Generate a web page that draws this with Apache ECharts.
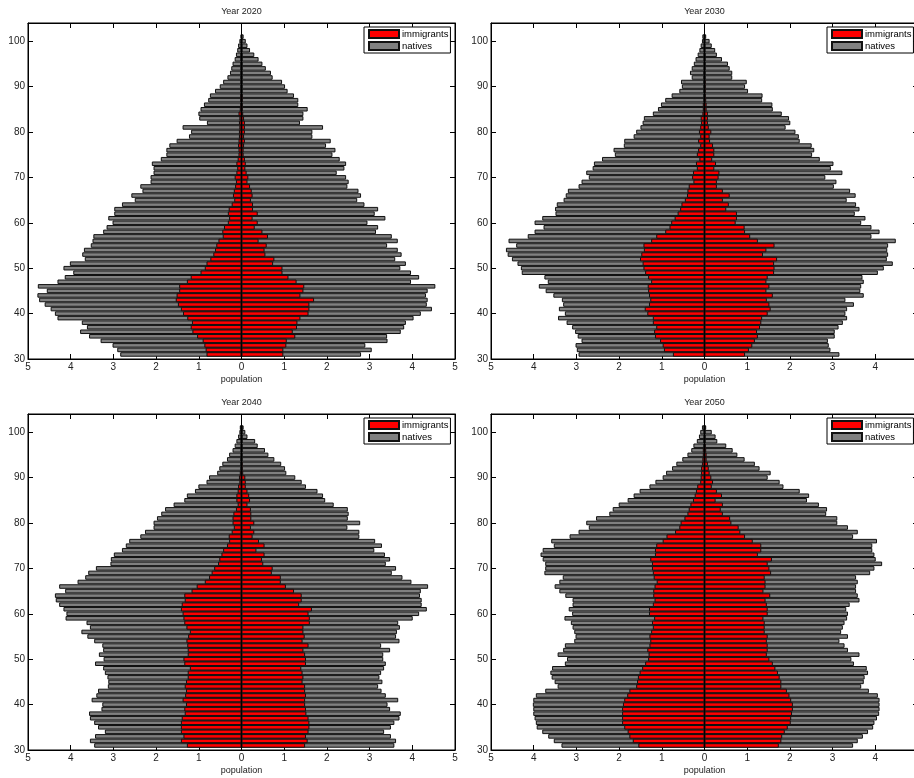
<!DOCTYPE html>
<html>
<head>
<meta charset="utf-8">
<script src="https://cdn.jsdelivr.net/npm/echarts@6/dist/echarts.min.js"></script>
<style>
html,body{margin:0;padding:0;background:#fff;}
#chart{width:914px;height:778px;}
</style>
</head>
<body>
<div id="chart"></div>
<script>
// ages from top (101) to bottom (31)
const ages = [];
for (let a = 101; a >= 31; a--) ages.push(a);
const yCategories = [];
for (let a = 30; a <= 104; a++) yCategories.push(String(a));
const years = ['2020', '2030', '2040', '2050'];
const xTicks = [-5, -4, -3, -2, -1, 0, 1, 2, 3, 4, 5];

// ---- Year 2020 ----
const natives2020Left = [0.02,0.05,0.08,0.10,0.13,0.16,0.21,0.24,0.27,0.33,
0.43,0.51,0.62,0.74,0.78,0.88,0.96,1.01,0.99,0.81,
1.38,1.18,1.23,1.52,1.69,1.76,1.76,1.89,2.10,2.06,
2.06,2.13,2.13,2.37,2.32,2.58,2.50,2.80,2.98,2.98,
3.12,3.02,3.16,3.24,3.47,3.49,3.53,3.69,3.73,3.67,
4.02,4.17,3.94,4.14,4.31,4.77,4.56,4.78,4.74,4.61,
4.47,4.37,4.31,3.74,3.62,3.78,3.57,3.30,3.02,2.91,
2.84];
const natives2020Right = [0.05,0.10,0.14,0.20,0.30,0.40,0.49,0.57,0.69,0.73,
0.95,1.02,1.08,1.23,1.33,1.33,1.55,1.45,1.45,1.37,
1.91,1.66,1.66,2.09,1.98,2.20,2.13,2.30,2.45,2.41,
2.23,2.45,2.51,2.48,2.74,2.80,2.71,2.88,3.20,3.12,
3.37,2.95,3.20,3.15,3.52,3.66,3.41,3.66,3.75,3.60,
3.85,3.72,3.97,4.16,3.97,4.54,4.36,4.32,4.36,4.34,
4.46,4.20,4.03,3.85,3.81,3.73,3.41,3.42,2.90,3.05,
2.80];
const immigrants2020Left = [0,0.01,0.01,0.01,0.02,0.02,0.02,0.02,0.02,0.02,
0.02,0.02,0.02,0.03,0.03,0.03,0.04,0.07,0.05,0.06,
0.05,0.06,0.06,0.07,0.08,0.07,0.07,0.09,0.12,0.10,
0.12,0.16,0.13,0.15,0.18,0.20,0.17,0.23,0.30,0.32,
0.29,0.32,0.41,0.45,0.44,0.54,0.59,0.62,0.66,0.73,
0.82,0.86,0.96,1.19,1.28,1.46,1.46,1.52,1.54,1.49,
1.42,1.37,1.27,1.16,1.19,1.15,1.04,0.91,0.87,0.84,
0.82];
const immigrants2020Right = [0,0.01,0.01,0.01,0.02,0.02,0.02,0.02,0.02,0.02,
0.02,0.02,0.02,0.03,0.03,0.03,0.03,0.04,0.06,0.08,
0.08,0.08,0.06,0.08,0.06,0.05,0.05,0.08,0.10,0.09,
0.12,0.16,0.14,0.20,0.24,0.26,0.22,0.27,0.27,0.38,
0.26,0.38,0.31,0.49,0.62,0.40,0.59,0.54,0.56,0.77,
0.74,0.96,0.96,1.10,1.29,1.47,1.45,1.38,1.70,1.59,
1.59,1.57,1.38,1.31,1.30,1.20,1.26,1.06,1.05,0.98,
0.98];

// ---- Year 2030 ----
const natives2030Left = [0.05,0.06,0.09,0.12,0.16,0.21,0.25,0.30,0.34,0.30,
0.55,0.53,0.59,0.77,0.92,1.02,1.09,1.21,1.42,1.45,
1.50,1.60,1.66,1.88,1.89,2.13,2.10,2.40,2.59,2.62,
2.77,2.71,2.88,2.95,3.20,3.25,3.30,3.46,3.50,3.49,
3.80,3.98,3.77,3.98,4.14,4.59,4.41,4.65,4.61,4.51,
4.38,4.30,4.28,3.75,3.67,3.88,3.72,3.54,3.34,3.31,
3.41,3.27,3.43,3.23,3.10,3.03,2.97,2.88,3.02,2.99,
2.95];
const natives2030Right = [0.04,0.12,0.17,0.25,0.29,0.41,0.55,0.59,0.65,0.65,
0.99,0.95,1.02,1.36,1.35,1.59,1.60,1.81,1.98,2.01,
1.90,2.13,2.21,2.23,2.51,2.57,2.52,2.70,3.02,2.96,
3.23,2.83,3.09,3.03,3.41,3.54,3.33,3.55,3.63,3.52,
3.77,3.67,3.91,4.10,3.91,4.48,4.30,4.28,4.30,4.27,
4.41,4.20,4.06,3.70,3.73,3.67,3.65,3.73,3.30,3.50,
3.34,3.30,3.34,3.24,3.14,3.05,3.05,2.89,2.91,2.95,
3.16];
const immigrants2030Left = [0,0.01,0.01,0.01,0.01,0.01,0.01,0.01,0.02,0.02,
0.02,0.02,0.02,0.02,0.02,0.04,0.04,0.05,0.09,0.08,
0.10,0.13,0.10,0.15,0.10,0.15,0.18,0.12,0.20,0.18,
0.27,0.29,0.26,0.37,0.40,0.41,0.46,0.54,0.57,0.63,
0.70,0.78,0.82,0.92,1.13,1.25,1.43,1.42,1.48,1.51,
1.45,1.43,1.39,1.32,1.25,1.33,1.32,1.30,1.27,1.30,
1.40,1.34,1.21,1.21,1.13,1.18,1.16,1.04,0.98,0.95,
0.74];
const immigrants2030Right = [0,0.01,0.01,0.01,0.02,0.02,0.02,0.02,0.02,0.02,
0.03,0.03,0.03,0.03,0.04,0.05,0.05,0.08,0.08,0.08,
0.10,0.16,0.12,0.13,0.20,0.23,0.23,0.18,0.27,0.23,
0.35,0.33,0.29,0.29,0.43,0.59,0.43,0.57,0.51,0.76,
0.76,0.73,0.94,0.95,1.07,1.25,1.64,1.45,1.37,1.70,
1.63,1.64,1.63,1.48,1.45,1.52,1.45,1.60,1.46,1.52,
1.55,1.48,1.35,1.33,1.30,1.23,1.25,1.18,1.12,1.04,
0.95];

// ---- Year 2040 ----
const natives2040Left = [0.04,0.05,0.08,0.12,0.16,0.21,0.29,0.34,0.45,0.52,
0.57,0.76,0.82,1.01,1.09,1.28,1.34,1.59,1.79,1.88,
1.98,2.06,2.06,2.26,2.37,2.63,2.71,2.80,2.99,3.06,
3.07,3.41,3.59,3.66,3.84,4.27,4.13,4.37,4.35,4.27,
4.17,4.10,4.12,3.63,3.55,3.75,3.61,3.45,3.26,3.24,
3.34,3.23,3.43,3.24,3.20,3.14,3.12,3.13,3.36,3.40,
3.51,3.26,3.28,3.57,3.55,3.45,3.36,3.20,3.43,3.55,
3.45];
const natives2040Right = [0.05,0.09,0.14,0.32,0.38,0.55,0.63,0.77,0.93,1.02,
1.05,1.26,1.41,1.51,1.78,1.91,1.96,2.16,2.49,2.51,
2.49,2.78,2.48,2.76,2.76,3.13,3.29,3.11,3.36,3.48,
3.38,3.62,3.52,3.77,3.98,4.37,4.20,4.18,4.22,4.22,
4.34,4.16,4.01,3.67,3.71,3.64,3.62,3.70,3.27,3.48,
3.32,3.32,3.38,3.34,3.27,3.23,3.30,3.20,3.28,3.38,
3.67,3.42,3.48,3.73,3.70,3.58,3.50,3.34,3.50,3.62,
3.58];
const immigrants2040Left = [0.01,0.01,0.01,0.01,0.01,0.01,0.01,0.02,0.02,0.02,
0.04,0.06,0.05,0.08,0.09,0.12,0.12,0.09,0.13,0.19,
0.21,0.21,0.18,0.23,0.30,0.29,0.34,0.43,0.47,0.52,
0.55,0.64,0.70,0.76,0.86,1.05,1.17,1.34,1.33,1.40,
1.42,1.38,1.36,1.34,1.29,1.21,1.25,1.29,1.27,1.26,
1.26,1.36,1.34,1.21,1.26,1.26,1.30,1.33,1.30,1.32,
1.38,1.30,1.34,1.33,1.40,1.42,1.42,1.42,1.36,1.42,
1.28];
const immigrants2040Right = [0.02,0.02,0.02,0.02,0.02,0.02,0.02,0.02,0.03,0.03,
0.04,0.09,0.10,0.10,0.14,0.18,0.20,0.14,0.22,0.23,
0.23,0.30,0.22,0.30,0.26,0.41,0.54,0.35,0.54,0.48,
0.51,0.73,0.71,0.92,0.92,1.04,1.23,1.41,1.41,1.35,
1.65,1.57,1.60,1.60,1.45,1.45,1.48,1.43,1.57,1.45,
1.49,1.51,1.51,1.40,1.43,1.45,1.43,1.49,1.49,1.51,
1.49,1.49,1.51,1.52,1.57,1.59,1.59,1.57,1.51,1.55,
1.49];

// ---- Year 2050 ----
const natives2050Left = [0.06,0.10,0.13,0.18,0.26,0.31,0.40,0.52,0.66,0.76,
0.90,0.98,1.15,1.29,1.52,1.66,1.80,2.01,2.15,2.23,
2.54,2.77,2.71,2.95,3.16,3.59,3.53,3.79,3.84,3.79,
3.73,3.73,3.75,3.32,3.40,3.51,3.40,3.26,3.09,3.09,
3.18,3.10,3.28,3.13,3.09,3.05,3.02,3.05,3.27,3.31,
3.44,3.22,3.27,3.57,3.61,3.58,3.51,3.44,3.73,3.95,
4.01,4.02,4.01,4.01,3.98,3.95,3.93,3.80,3.66,3.53,
3.35];
const natives2050Right = [0.04,0.17,0.26,0.30,0.51,0.66,0.77,0.94,1.18,1.29,
1.55,1.48,1.76,1.85,2.23,2.45,2.40,2.68,2.87,2.85,
3.11,3.11,3.36,3.59,3.48,4.04,3.93,3.93,3.98,4.01,
4.16,3.98,3.88,3.55,3.59,3.55,3.55,3.59,3.63,3.40,
3.32,3.36,3.34,3.28,3.24,3.20,3.36,3.16,3.28,3.36,
3.63,3.44,3.50,3.80,3.83,3.75,3.73,3.67,3.85,4.06,
4.10,4.10,4.10,4.09,4.04,3.98,3.95,3.83,3.71,3.59,
3.48];
const immigrants2050Left = [0.01,0.01,0.01,0.02,0.02,0.04,0.04,0.05,0.06,0.08,
0.08,0.09,0.10,0.17,0.20,0.23,0.27,0.33,0.37,0.40,
0.47,0.56,0.59,0.69,0.89,0.98,1.13,1.16,1.16,1.27,
1.23,1.23,1.21,1.19,1.12,1.17,1.20,1.20,1.17,1.21,
1.30,1.30,1.18,1.23,1.21,1.25,1.29,1.27,1.29,1.34,
1.31,1.32,1.39,1.46,1.52,1.56,1.58,1.60,1.76,1.81,
1.88,1.91,1.93,1.93,1.93,1.93,1.88,1.80,1.76,1.68,
1.55];
const immigrants2050Right = [0.02,0.02,0.02,0.02,0.03,0.04,0.05,0.05,0.08,0.10,
0.12,0.16,0.20,0.17,0.29,0.41,0.26,0.43,0.38,0.43,
0.60,0.63,0.80,0.84,0.95,1.13,1.33,1.33,1.25,1.58,
1.48,1.52,1.56,1.41,1.43,1.43,1.38,1.54,1.43,1.46,
1.48,1.48,1.38,1.41,1.41,1.41,1.48,1.46,1.48,1.48,
1.46,1.52,1.60,1.66,1.72,1.76,1.80,1.80,1.93,1.99,
2.03,2.07,2.07,2.05,2.03,2.02,1.95,1.88,1.82,1.80,
1.74];

const panels = [
  {year: years[0], natL: natives2020Left, natR: natives2020Right, immL: immigrants2020Left, immR: immigrants2020Right},
  {year: years[1], natL: natives2030Left, natR: natives2030Right, immL: immigrants2030Left, immR: immigrants2030Right},
  {year: years[2], natL: natives2040Left, natR: natives2040Right, immL: immigrants2040Left, immR: immigrants2040Right},
  {year: years[3], natL: natives2050Left, natR: natives2050Right, immL: immigrants2050Left, immR: immigrants2050Right}
];

const FONT = 'Liberation Sans, Arial, Helvetica, sans-serif';
const gridPos = [
  {left: 28, top: 23, width: 427, height: 336},
  {left: 491, top: 23, width: 427, height: 336},
  {left: 28, top: 414, width: 427, height: 336},
  {left: 491, top: 414, width: 427, height: 336}
];
const legendPos = [
  {left: 364, top: 27}, {left: 827, top: 27}, {left: 364, top: 418}, {left: 827, top: 418}
];

const grid = [], xAxis = [], yAxis = [], series = [], legend = [], graphic = [];
const tenFn = (i, v) => (+v) % 10 === 0;
const NAT = '#808080', IMM = '#ff0000', EDGE = '#111';

panels.forEach((p, g) => {
  const gp = gridPos[g];
  grid.push(Object.assign({show: true, borderColor: '#000', borderWidth: 1, backgroundColor: '#fff',
    containLabel: false, outerBoundsMode: 'none'}, gp));
  // bottom x axis
  xAxis.push({
    type: 'value', gridIndex: g, position: 'bottom', min: xTicks[0], max: xTicks[xTicks.length - 1], interval: 1,
    name: 'population', nameLocation: 'middle', nameGap: 16,
    nameTextStyle: {fontFamily: FONT, fontSize: 9, color: '#222'},
    axisLine: {show: true, onZero: false, lineStyle: {color: '#000', width: 1}},
    axisTick: {show: true, inside: true, length: 5, lineStyle: {color: '#000'}},
    axisLabel: {show: true, margin: 3, fontFamily: FONT, fontSize: 10, color: '#222', formatter: v => String(Math.abs(v))},
    splitLine: {show: false}
  });
  // top x axis (ticks only)
  xAxis.push({
    type: 'value', gridIndex: g, position: 'top', min: xTicks[0], max: xTicks[xTicks.length - 1], interval: 1,
    axisLine: {show: true, onZero: false, lineStyle: {color: '#000', width: 1}},
    axisTick: {show: true, inside: true, length: 5, lineStyle: {color: '#000'}},
    axisLabel: {show: false}, splitLine: {show: false}
  });
  // left y axis
  yAxis.push({
    type: 'category', gridIndex: g, position: 'left', data: yCategories, boundaryGap: false,
    axisLine: {show: true, onZero: false, lineStyle: {color: '#000', width: 1}},
    axisTick: {show: true, inside: true, length: 5, interval: tenFn, lineStyle: {color: '#000'}},
    axisLabel: {show: true, interval: tenFn, margin: 3, fontFamily: FONT, fontSize: 10, color: '#222'},
    splitLine: {show: false}
  });
  // right y axis (ticks only)
  yAxis.push({
    type: 'category', gridIndex: g, position: 'right', data: yCategories, boundaryGap: false,
    axisLine: {show: true, onZero: false, lineStyle: {color: '#000', width: 1}},
    axisTick: {show: true, inside: true, length: 5, interval: tenFn, lineStyle: {color: '#000'}},
    axisLabel: {show: false}, splitLine: {show: false}
  });

  const mk = (name, arr, sign, color, extra) => Object.assign({
    type: 'bar', name: name, xAxisIndex: g * 2, yAxisIndex: g * 2,
    barGap: '-100%', barCategoryGap: '0%', animation: false, silent: true,
    itemStyle: {color: color, borderColor: EDGE, borderWidth: 1},
    data: arr.map((v, i) => [sign * v, ages[i] - 30])
  }, extra || {});

  series.push(mk('natives', p.natL, -1, NAT));
  series.push(mk('natives', p.natR, 1, NAT));
  series.push(mk('immigrants', p.immL, -1, IMM));
  series.push(mk('immigrants', p.immR, 1, IMM, {
    markLine: {silent: true, symbol: 'none', animation: false, label: {show: false},
      lineStyle: {color: '#000', width: 1, type: 'solid'}, data: [{xAxis: 0}]}
  }));

  legend.push({
    data: ['immigrants', 'natives'], orient: 'vertical', left: legendPos[g].left, top: legendPos[g].top,
    itemWidth: 30, itemHeight: 8, itemGap: 2, padding: [2, 2, 2, 4], icon: 'rect',
    borderColor: '#000', borderWidth: 1, backgroundColor: '#fff', selectedMode: false,
    textStyle: {fontFamily: FONT, fontSize: 9.5, color: '#000', padding: [0, 0, 0, -2]}
  });

  graphic.push({
    type: 'text', x: gp.left + gp.width / 2, y: gp.top - 11,
    style: {text: 'Year ' + p.year, fontFamily: FONT, fontSize: 9, fill: '#222',
      textAlign: 'center', textVerticalAlign: 'middle'}
  });
});

const chart = echarts.init(document.getElementById('chart'), null, {renderer: 'canvas'});
chart.setOption({
  animation: false,
  backgroundColor: '#fff',
  grid: grid, xAxis: xAxis, yAxis: yAxis, series: series, legend: legend, graphic: graphic
});
</script>
</body>
</html>
